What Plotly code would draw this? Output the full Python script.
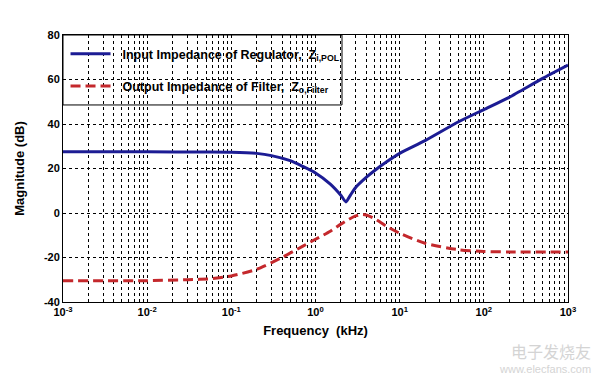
import plotly.graph_objects as go

# ---- data ----
freq_in = [0.001, 0.01, 0.05, 0.1, 0.2, 0.3, 0.5, 0.7, 1.0, 1.5, 2.0, 2.3, 2.6, 3.0,
           4.0, 5.0, 7.0, 10, 20, 50, 100, 200, 500, 1000]
zin_db = [27.5, 27.5, 27.4, 27.3, 26.8, 25.8, 23.5, 21.0, 18.0, 13.0, 8.0, 5.0, 8.0, 11.5,
          16.0, 19.0, 23.0, 26.8, 32.5, 41.0, 46.5, 52.0, 60.5, 66.5]

freq_out = [0.001, 0.01, 0.03, 0.06, 0.1, 0.2, 0.4, 0.7, 1.0, 1.5, 2.0, 2.5, 3.0, 3.5,
            4.0, 5.0, 7.0, 10, 20, 50, 100, 200, 1000]
zout_db = [-30.5, -30.4, -30.0, -29.5, -28.3, -25.3, -20.0, -15.0, -11.8, -8.2, -5.0, -2.8,
           -1.3, -0.7, -0.9, -2.5, -6.0, -9.1, -13.6, -16.5, -17.3, -17.5, -17.5]

x_tickvals = [0.001, 0.01, 0.1, 1, 10, 100, 1000]
x_ticktext = ["10<sup>-3</sup>", "10<sup>-2</sup>", "10<sup>-1</sup>", "10<sup>0</sup>",
              "10<sup>1</sup>", "10<sup>2</sup>", "10<sup>3</sup>"]
y_tickvals = [-40, -20, 0, 20, 40, 60, 80]
y_ticktext = ["-40", "-20", "0", "20", "40", "60", "80"]

name_in = "&nbsp;&nbsp;Input Impedance of Regulator,  Z<sub>i,POL</sub>"
name_out = "&nbsp;&nbsp;Output Impedance of Filter,  Z<sub>o,Filter</sub>"

FONT = "Liberation Sans, Arial, sans-serif"

fig = go.Figure()
fig.add_trace(go.Scatter(x=freq_in, y=zin_db, mode="lines", name=name_in,
                         line=dict(color="#1c1c94", width=3, shape="spline", smoothing=0.6),
                         legend="legend"))
fig.add_trace(go.Scatter(x=freq_out, y=zout_db, mode="lines", name=name_out,
                         line=dict(color="#c4282c", width=3, dash="10px,5px", shape="spline", smoothing=0.6),
                         legend="legend2"))

grid = dict(showgrid=True, gridcolor="black", gridwidth=1, griddash="3px,3px")
leg = dict(xanchor="left", yanchor="middle", bgcolor="rgba(0,0,0,0)",
           borderwidth=0, font=dict(size=12.5, weight="bold"), itemwidth=40)

fig.update_layout(
    width=604, height=377,
    margin=dict(l=63, r=36, t=35, b=75),
    paper_bgcolor="white", plot_bgcolor="white",
    showlegend=True,
    font=dict(family=FONT, color="black", size=11),
    xaxis=dict(type="log", range=[-3, 3], tickvals=x_tickvals, ticktext=x_ticktext,
               tickfont=dict(size=11, weight="bold"),
               showline=True, linecolor="black", linewidth=1, mirror=True,
               ticks="", zeroline=False,
               minor=dict(dtick="D1", showgrid=True, gridcolor="black", gridwidth=1,
                          griddash="3px,3px", ticks=""),
               title=dict(text="Frequency  (kHz)", font=dict(size=13, weight="bold"), standoff=8),
               **grid),
    yaxis=dict(range=[-40, 80], tickvals=y_tickvals, ticktext=y_ticktext,
               tickfont=dict(size=11, weight="bold"),
               showline=True, linecolor="black", linewidth=1, mirror=True,
               ticks="", zeroline=False,
               title=dict(text="Magnitude (dB)", font=dict(size=13, weight="bold"), standoff=16),
               **grid),
    legend=dict(x=0.005, y=0.928, **leg),
    legend2=dict(x=0.005, y=0.808, **leg),
    shapes=[dict(type="rect", xref="paper", yref="paper", x0=0, x1=0.5525, y0=0.738, y1=1,
                 fillcolor="white", line=dict(color="black", width=1), layer="between")],
    annotations=[
        dict(text="电子发烧友", xref="paper", yref="paper",
             x=1.05, y=-0.13, xanchor="right", yanchor="top", showarrow=False,
             font=dict(family="Noto Sans CJK SC", size=16, color="#d4d4d4")),
        dict(text="www.elecfans.com", xref="paper", yref="paper",
             x=1.05, y=-0.22, xanchor="right", yanchor="top", showarrow=False,
             font=dict(family=FONT, size=11, color="#d4d4d4")),
    ],
)

fig.write_html("out.html", config={"displayModeBar": False},
               post_script="document.body.style.margin='0';")
